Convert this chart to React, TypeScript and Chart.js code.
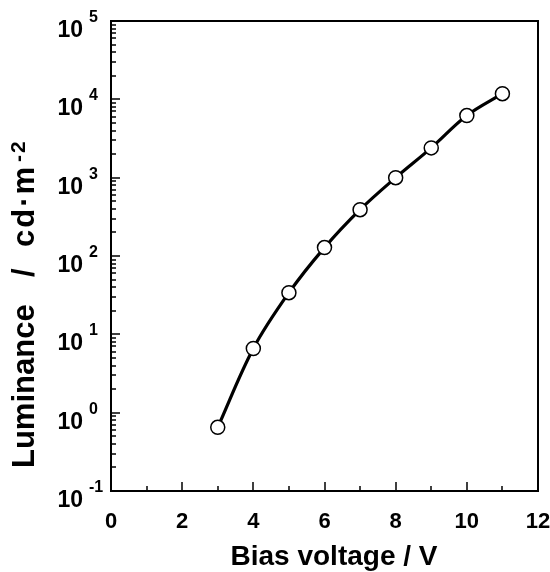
import React, { useEffect, useRef } from "react";
import { Chart, registerables } from "chart.js";

Chart.register(...registerables);

const voltages = [3, 4, 5, 6, 7, 8, 9, 10, 11];
const luminance = [0.65, 6.6, 34, 128, 390, 1000, 2400, 6200, 11800];
const xTickValues = [0, 2, 4, 6, 8, 10, 12];
const xMinorTicks = [1, 3, 5, 7, 9, 11];
const yExponents = [-1, 0, 1, 2, 3, 4, 5];
const xTitle = "Bias voltage / V";
const yTitleMain = "Luminance";
const yTitleSlash = "/";
const yTitleUnit = "cd·m";
const yTitleExp = "-2";

const FONT = "'Liberation Sans', Arial, Helvetica, sans-serif";

const decorPlugin = {
  id: "decor",
  afterDraw(chart: any) {
    const ctx = chart.ctx as CanvasRenderingContext2D;
    const { left, right, top, bottom } = chart.chartArea;
    const xs = chart.scales.x;
    const ys = chart.scales.y;
    ctx.save();
    ctx.strokeStyle = "#000";
    ctx.fillStyle = "#000";
    ctx.lineWidth = 2;
    ctx.strokeRect(left, top, right - left, bottom - top);

    // x ticks
    ctx.beginPath();
    for (const v of xTickValues) {
      const px = Math.round(xs.getPixelForValue(v));
      ctx.moveTo(px, bottom);
      ctx.lineTo(px, bottom - 9);
    }
    for (const v of xMinorTicks) {
      const px = Math.round(xs.getPixelForValue(v));
      ctx.moveTo(px, bottom);
      ctx.lineTo(px, bottom - 5);
    }
    // y ticks
    for (const e of yExponents) {
      const py = Math.round(ys.getPixelForValue(Math.pow(10, e)));
      ctx.moveTo(left, py);
      ctx.lineTo(left + 9, py);
      if (e < 5) {
        for (let m = 2; m <= 9; m++) {
          const pm = Math.round(ys.getPixelForValue(m * Math.pow(10, e)));
          ctx.moveTo(left, pm);
          ctx.lineTo(left + 5, pm);
        }
      }
    }
    ctx.lineWidth = 1.5;
    ctx.stroke();

    // x tick labels
    ctx.font = `bold 22px ${FONT}`;
    ctx.textAlign = "center";
    ctx.textBaseline = "alphabetic";
    for (const v of xTickValues) {
      const px = xs.getPixelForValue(v);
      ctx.fillText(String(v), px, bottom + 37);
    }

    // y tick labels 10^n
    for (const e of yExponents) {
      const py = ys.getPixelForValue(Math.pow(10, e));
      ctx.font = `bold 23px ${FONT}`;
      ctx.textAlign = "right";
      ctx.fillText("10", 83, py + 16);
      ctx.font = `bold 16px ${FONT}`;
      ctx.textAlign = "left";
      ctx.fillText(String(e), 89, py + 1);
    }

    // x title
    ctx.font = `bold 28px ${FONT}`;
    ctx.textAlign = "center";
    ctx.fillText(xTitle, 334, 565);

    // y title (rotated, reading bottom to top)
    ctx.translate(34, 468);
    ctx.rotate(-Math.PI / 2);
    ctx.textAlign = "left";
    ctx.font = `bold 31px ${FONT}`;
    ctx.fillText(yTitleMain, 0, 0);
    ctx.fillText(yTitleSlash, 191, 0);
    (ctx as any).letterSpacing = "2px";
    ctx.fillText(yTitleUnit, 221, 0);
    const unitW = ctx.measureText(yTitleUnit).width;
    ctx.font = `bold 21px ${FONT}`;
    ctx.fillText(yTitleExp, 221 + unitW + 3, -9);
    ctx.restore();
  },
};

export default function App() {
  const ref = useRef<HTMLCanvasElement>(null);
  useEffect(() => {
    const canvas = ref.current;
    if (!canvas) return;
    const chart = new Chart(canvas, {
      type: "line",
      data: {
        datasets: [
          {
            data: voltages.map((v, i) => ({ x: v, y: luminance[i] })),
            borderColor: "#000",
            borderWidth: 3.2,
            tension: 0.35,
            pointRadius: 7,
            pointBorderWidth: 1.5,
            pointBackgroundColor: "#fff",
            pointBorderColor: "#000",
            fill: false,
          },
        ],
      },
      options: {
        responsive: false,
        animation: false,
        events: [],
        layout: { padding: { left: 0, top: 21, right: 12, bottom: 0 }, autoPadding: false },
        plugins: { legend: { display: false }, tooltip: { enabled: false } },
        scales: {
          x: {
            type: "linear",
            min: 0,
            max: 12,
            grid: { display: false, drawTicks: false },
            border: { display: false },
            ticks: { display: false },
            afterFit: (s: any) => {
              s.height = 81;
            },
          },
          y: {
            type: "logarithmic",
            min: 0.1,
            max: 100000,
            grid: { display: false, drawTicks: false },
            border: { display: false },
            ticks: { display: false },
            afterFit: (s: any) => {
              s.width = 111;
            },
          },
        },
      },
      plugins: [decorPlugin],
    });
    return () => chart.destroy();
  }, []);
  return (
    <div style={{ position: "fixed", left: 0, top: 0, width: 550, height: 572, background: "#fff" }}>
      <canvas ref={ref} width={550} height={572} style={{ display: "block" }} />
    </div>
  );
}
